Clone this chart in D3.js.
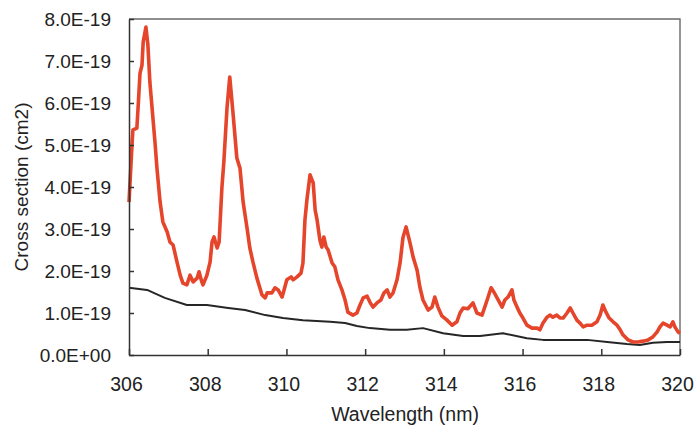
<!DOCTYPE html>
<html>
<head>
<meta charset="utf-8">
<script src="https://cdn.jsdelivr.net/npm/d3@7"></script>
<style>
  body { margin: 0; background: #fff; }
  svg text { font-family: Arial, "Liberation Sans", sans-serif; fill: #222; }
</style>
</head>
<body>
<div id="xs-graph"></div>
<script>
// measured absorption cross section (red) and the background trace (black)
const redWl = [306.00, 306.08, 306.10, 306.20, 306.23, 306.28, 306.33, 306.36, 306.43, 306.48,
  306.53, 306.58, 306.66, 306.71, 306.79, 306.86, 306.97, 307.04, 307.12, 307.22,
  307.30, 307.37, 307.47, 307.55, 307.63, 307.73, 307.78, 307.85, 307.88, 307.98,
  308.06, 308.11, 308.16, 308.24, 308.29, 308.36, 308.41, 308.49, 308.56, 308.64,
  308.74, 308.82, 308.90, 309.00, 309.07, 309.15, 309.25, 309.38, 309.46, 309.51,
  309.63, 309.71, 309.79, 309.89, 309.94, 310.01, 310.12, 310.17, 310.27, 310.37,
  310.42, 310.47, 310.52, 310.60, 310.68, 310.73, 310.78, 310.85, 310.90, 310.95,
  311.01, 311.06, 311.16, 311.23, 311.31, 311.41, 311.49, 311.56, 311.69, 311.79,
  311.87, 311.95, 312.05, 312.12, 312.20, 312.30, 312.40, 312.48, 312.56, 312.63,
  312.71, 312.81, 312.89, 312.96, 313.04, 313.14, 313.22, 313.32, 313.39, 313.47,
  313.60, 313.70, 313.77, 313.85, 313.95, 314.08, 314.21, 314.33, 314.41, 314.49,
  314.61, 314.74, 314.84, 314.97, 315.10, 315.20, 315.27, 315.38, 315.48, 315.55,
  315.63, 315.73, 315.78, 315.86, 315.93, 316.01, 316.11, 316.24, 316.37, 316.44,
  316.52, 316.62, 316.70, 316.77, 316.87, 316.95, 317.03, 317.13, 317.21, 317.28,
  317.38, 317.46, 317.54, 317.64, 317.76, 317.89, 317.97, 318.04, 318.12, 318.20,
  318.30, 318.40, 318.48, 318.55, 318.68, 318.81, 318.93, 319.06, 319.19, 319.31,
  319.42, 319.49, 319.57, 319.67, 319.75, 319.82, 319.87, 319.95, 320.00];
const redXs = [3.64, 5.07, 5.36, 5.40, 5.88, 6.71, 6.90, 7.45, 7.81, 7.38,
  6.50, 5.95, 5.07, 4.45, 3.64, 3.17, 2.93, 2.69, 2.62, 2.21,
  1.90, 1.71, 1.67, 1.90, 1.74, 1.83, 1.98, 1.74, 1.67, 1.90,
  2.21, 2.69, 2.81, 2.55, 2.69, 3.98, 4.60, 5.88, 6.62, 5.79,
  4.69, 4.45, 3.64, 3.02, 2.55, 2.21, 1.83, 1.43, 1.36, 1.48,
  1.48, 1.60, 1.55, 1.38, 1.55, 1.79, 1.86, 1.79, 1.86, 1.95,
  2.19, 3.21, 3.69, 4.29, 4.10, 3.45, 3.21, 2.74, 2.57, 2.81,
  2.57, 2.50, 2.19, 2.10, 1.79, 1.55, 1.31, 1.02, 0.95, 1.00,
  1.19, 1.36, 1.40, 1.26, 1.14, 1.24, 1.31, 1.48, 1.55, 1.38,
  1.48, 1.79, 2.21, 2.79, 3.05, 2.67, 2.33, 2.02, 1.62, 1.31,
  1.07, 1.14, 1.38, 1.14, 0.93, 0.83, 0.71, 0.79, 1.00, 1.12,
  1.10, 1.24, 1.00, 0.95, 1.31, 1.60, 1.50, 1.31, 1.14, 1.31,
  1.38, 1.55, 1.31, 1.14, 1.00, 0.88, 0.71, 0.64, 0.64, 0.60,
  0.76, 0.90, 0.95, 0.90, 0.95, 0.88, 0.88, 1.00, 1.12, 1.00,
  0.83, 0.76, 0.67, 0.71, 0.71, 0.79, 0.95, 1.19, 1.02, 0.88,
  0.79, 0.71, 0.60, 0.48, 0.36, 0.31, 0.31, 0.33, 0.36, 0.43,
  0.55, 0.67, 0.76, 0.71, 0.67, 0.79, 0.67, 0.55, 0.52].map(v => v * 1e-19);

const blackWl = [306.00, 306.46, 306.91, 307.47, 307.98, 308.52, 308.95, 309.46, 309.91, 310.42,
  311.11, 311.49, 311.79, 312.12, 312.63, 313.06, 313.47, 313.98, 314.49, 314.92,
  315.50, 316.11, 316.52, 317.64, 318.15, 318.65, 318.98, 319.31, 319.67, 320.00];
const blackXs = [1.60, 1.55, 1.36, 1.19, 1.19, 1.12, 1.07, 0.95, 0.88, 0.83,
  0.79, 0.76, 0.69, 0.64, 0.60, 0.60, 0.64, 0.52, 0.45, 0.45,
  0.52, 0.40, 0.36, 0.36, 0.31, 0.26, 0.24, 0.29, 0.31, 0.31].map(v => v * 1e-19);

const xTicks = [306, 308, 310, 312, 314, 316, 318, 320];
const yTicks = [0, 1e-19, 2e-19, 3e-19, 4e-19, 5e-19, 6e-19, 7e-19, 8e-19];
const yTickLabels = ["0.0E+00", "1.0E-19", "2.0E-19", "3.0E-19", "4.0E-19",
  "5.0E-19", "6.0E-19", "7.0E-19", "8.0E-19"];

const w = 696, h = 426;
const plotL = 129, plotR = 680, plotT = 19, plotB = 355;

const svg = d3.select("#xs-graph")
  .append("svg")
  .attr("width", w)
  .attr("height", h);

const xScale = d3.scaleLinear().domain([306, 320]).range([plotL, plotR]);
const yScale = d3.scaleLinear().domain([0, 8e-19]).range([plotB, plotT]);

// top and right edges of the frame
svg.append("path")
  .attr("d", `M${plotL},${plotT}H${plotR}V${plotB}`)
  .attr("fill", "none")
  .attr("stroke", "#6a6a6a")
  .attr("stroke-width", 1.4);

const line = d3.line()
  .x(d => xScale(d[0]))
  .y(d => yScale(d[1]));

svg.append("path")
  .datum(d3.zip(blackWl, blackXs))
  .attr("fill", "none")
  .attr("stroke", "#262626")
  .attr("stroke-width", 2)
  .attr("stroke-linejoin", "round")
  .attr("d", line);

svg.append("path")
  .datum(d3.zip(redWl, redXs))
  .attr("fill", "none")
  .attr("stroke", "#e5452b")
  .attr("stroke-width", 3.6)
  .attr("stroke-linejoin", "round")
  .attr("d", line);

const axisB = d3.axisBottom(xScale)
  .tickValues(xTicks)
  .tickSizeInner(-6)
  .tickSizeOuter(0)
  .tickPadding(22)
  .tickFormat(d3.format("d"));

const axisL = d3.axisLeft(yScale)
  .tickValues(yTicks)
  .tickSizeInner(-5)
  .tickSizeOuter(0)
  .tickPadding(18)
  .tickFormat((d, i) => yTickLabels[i]);

const gx = svg.append("g")
  .attr("transform", `translate(0,${plotB})`)
  .call(axisB);
gx.selectAll("text").attr("dx", -3).style("font-size", "19.5px");

const gy = svg.append("g")
  .attr("transform", `translate(${plotL},0)`)
  .call(axisL);
gy.selectAll("text").style("font-size", "19px");

svg.selectAll(".domain, .tick line")
  .attr("stroke", "#333")
  .attr("stroke-width", 1.5);

svg.append("text")
  .attr("x", 405)
  .attr("y", 421)
  .attr("text-anchor", "middle")
  .style("font-size", "19.5px")
  .text("Wavelength (nm)");

svg.append("text")
  .attr("transform", "translate(28,187) rotate(-90)")
  .attr("text-anchor", "middle")
  .style("font-size", "19px")
  .text("Cross section (cm2)");
</script>
</body>
</html>
